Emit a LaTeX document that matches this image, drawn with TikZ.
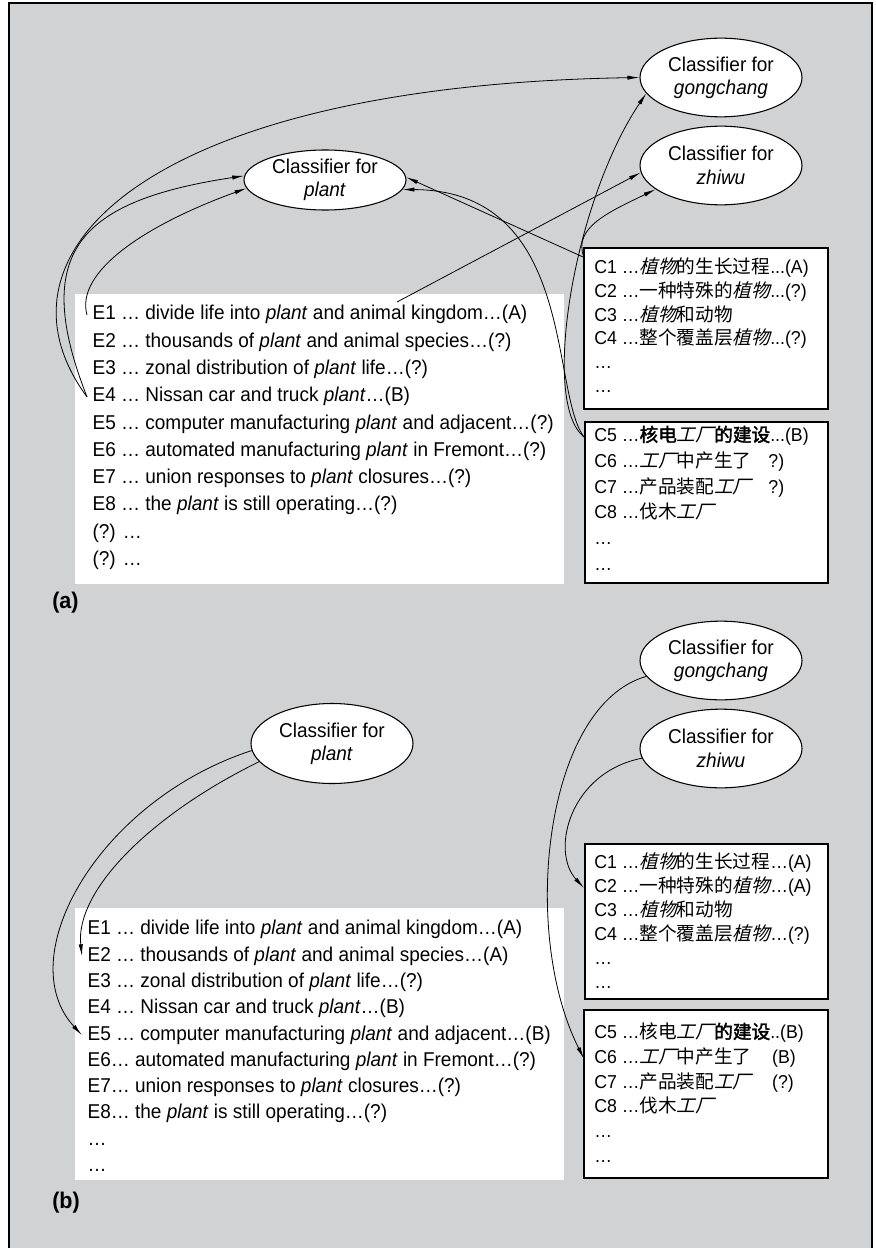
\documentclass[tikz,border=0pt]{standalone}
\usepackage{fontspec}
\usepackage{tikz}
\usetikzlibrary{shapes.geometric,arrows.meta}
\setmainfont{Liberation Sans}[FakeStretch=0.95]
\newfontfamily\hz{Noto Sans CJK SC}
\newfontfamily\hzit{Noto Sans CJK SC}[FakeSlant=0.25]
\newfontfamily\hzbf{Noto Sans CJK SC}[FakeBold=2]
\newcommand{\tdots}{.{}.{}.}
\definecolor{panelgray}{RGB}{209,210,212}

\begin{document}
\begin{tikzpicture}[x=0.75pt,y=-0.75pt,
    clf/.style={ellipse,draw,fill=white,line width=0.8pt,inner sep=0pt,
        minimum width=121.5pt,minimum height=59pt,align=center,
        font=\fontsize{15}{17.5}\selectfont},
    listbox/.style={draw,fill=white,line width=0.9pt},
    eline/.style={anchor=west,inner xsep=4pt,inner ysep=0pt,
        font=\fontsize{15}{18}\selectfont,execute at begin node=\strut},
    cline/.style={anchor=west,inner xsep=7.5pt,inner ysep=0pt,
        font=\fontsize{14}{17}\selectfont,execute at begin node=\strut},
    link/.style={-{Latex[length=9pt,width=3.2pt]},line width=0.6pt},
    panel/.style={anchor=west,inner sep=0pt,font=\fontsize{17}{19}\selectfont\bfseries}]

        \useasboundingbox (0,0) rectangle (875,1248);
        \fill[panelgray] (9,3) rectangle (872,1248);
        \draw[line width=0.9pt] (9,1248) -- (9,3) -- (872,3) -- (872,1248);

        % (a)
        \fill[white] (75,294) rectangle (564,584);
        \draw[listbox] (584,248) rectangle (828,409);
        \draw[listbox] (585,422) rectangle (828,583);

        \node[clf] (gca) at (721,77.5) {Classifier for\\\textit{gongchang}};
        \node[clf] (zwa) at (721,165.5) {Classifier for\\\textit{zhiwu}};
        \node[clf,minimum height=45pt] (pla) at (325,180) {Classifier for\\\textit{plant}};

        \foreach \t [count=\i] in {
            {E1 … divide life into \textit{plant} and animal kingdom…(A)},
            {E2 … thousands of \textit{plant} and animal species…(?)},
            {E3 … zonal distribution of \textit{plant} life…(?)},
            {E4 … Nissan car and truck \textit{plant}…(B)},
            {E5 … computer manufacturing \textit{plant} and adjacent…(?)},
            {E6 … automated manufacturing \textit{plant} in Fremont…(?)},
            {E7 … union responses to \textit{plant} closures…(?)},
            {E8 … the \textit{plant} is still operating…(?)},
            {(?) …},
            {(?) …}}
            \node[eline] (ea\i) at (87,{315+27.3*(\i-1)}) {\t};

        \foreach \t [count=\i] in {
            {C1 …{\hzit 植物}{\hz 的生长过程}\tdots(A)},
            {C2 …{\hz 一种特殊的}{\hzit 植物}\tdots(?)},
            {C3 …{\hzit 植物}{\hz 和动物}},
            {C4 …{\hz 整个覆盖层}{\hzit 植物}\tdots(?)},
            {…},
            {…}}
            \node[cline] (pa\i) at (584,{269+23.8*(\i-1)}) {\t};

        \foreach \t [count=\i] in {
            {C5 …{\hzbf 核电}{\hzit 工厂}{\hzbf 的建设}\tdots(B)},
            {C6 …{\hzit 工厂}{\hz 中产生了}\hspace{0.9em}?)},
            {C7 …{\hz 产品装配}{\hzit 工厂}\hspace{0.9em}?)},
            {C8 …{\hz 伐木}{\hzit 工厂}},
            {…},
            {…}}
            \node[cline] (ga\i) at (584,{437+25.8*(\i-1)}) {\t};

        \node[panel] (laba) at (52,603) {(a)};

        \coordinate (ea1top) at (397,302);
        \draw[link] (ea4.west) .. controls +(-107,-145) and +(-490,8) .. (gca.west);
        \draw[link] (ea4.west) .. controls +(-57,-145) and +(-165,25) .. (pla.177);
        \draw[link] (ea1.west) .. controls +(-12,-43) and +(-102,37) .. (pla.186);
        \draw[link] (ea1top) -- (zwa.185);
        \draw[link] (pa1.north west) -- (pla.2);
        \draw[link] (pa1.north west) .. controls +(-12,-30) and +(-45,22) .. (zwa.200);
        \draw[link] (ga1.west) .. controls +(-34,-45) and +(174,1) .. (pla.-7);
        \draw[link] (ga1.west) .. controls +(-44,-35) and +(-72,107) .. (gca.192);

        % (b)
        \fill[white] (75,908) rectangle (564,1180);
        \draw[listbox] (585,844) rectangle (828,999);
        \draw[listbox] (584,1010) rectangle (828,1178);

        \node[clf] (gcb) at (721,660.5) {Classifier for\\\textit{gongchang}};
        \node[clf] (zwb) at (721,748.5) {Classifier for\\\textit{zhiwu}};
        \node[clf,minimum height=60pt] (plb) at (332,743.5) {Classifier for\\\textit{plant}};

        \foreach \t [count=\i] in {
            {E1 … divide life into \textit{plant} and animal kingdom…(A)},
            {E2 … thousands of \textit{plant} and animal species…(A)},
            {E3 … zonal distribution of \textit{plant} life…(?)},
            {E4 … Nissan car and truck \textit{plant}…(B)},
            {E5 … computer manufacturing \textit{plant} and adjacent…(B)},
            {E6… automated manufacturing \textit{plant} in Fremont…(?)},
            {E7… union responses to \textit{plant} closures…(?)},
            {E8… the \textit{plant} is still operating…(?)},
            {…},
            {…}}
            \node[eline] (eb\i) at (82,{930+26.3*(\i-1)}) {\t};

        \foreach \t [count=\i] in {
            {C1 …{\hzit 植物}{\hz 的生长过程}…(A)},
            {C2 …{\hz 一种特殊的}{\hzit 植物}…(A)},
            {C3 …{\hzit 植物}{\hz 和动物}},
            {C4 …{\hz 整个覆盖层}{\hzit 植物}…(?)},
            {…},
            {…}}
            \node[cline] (pb\i) at (584,{864+24*(\i-1)}) {\t};

        \foreach \t [count=\i] in {
            {C5 …{\hz 核电}{\hzit 工厂}{\hzbf 的建设}.{}.(B)},
            {C6 …{\hzit 工厂}{\hz 中产生了}\hspace{1.1em}(B)},
            {C7 …{\hz 产品装配}{\hzit 工厂}\hspace{1.1em}(?)},
            {C8 …{\hz 伐木}{\hzit 工厂}},
            {…},
            {…}}
            \node[cline] (gb\i) at (584,{1034+24.8*(\i-1)}) {\t};

        \node[panel] (labb) at (52,1203) {(b)};

        \draw[link] (plb.194) .. controls +(-110,54) and +(-7,-65) .. (eb2.west);
        \draw[link] (plb.185) .. controls +(-153,50) and +(-72,-78) .. (eb5.west);
        \draw[link] (gcb.192) .. controls +(-102,29) and +(-64,-127) .. (gb2.west);
        \draw[link] (zwb.187) .. controls +(-72,14) and +(-34,-37) .. (pb2.west);
\end{tikzpicture}
\end{document}
